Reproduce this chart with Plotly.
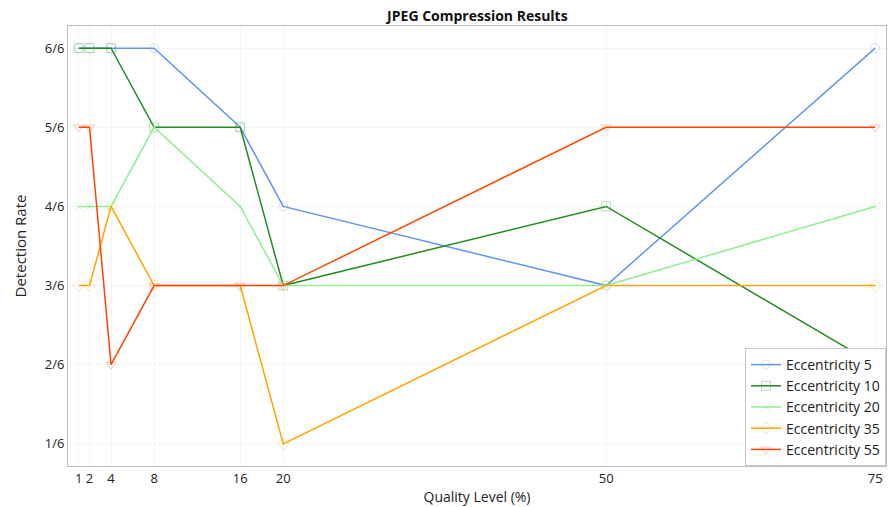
import plotly.graph_objects as go

quality = [1, 2, 4, 8, 16, 20, 50, 75]
ecc5 = [6, 6, 6, 6, 5, 4, 3, 6]
ecc10 = [6, 6, 6, 5, 5, 3, 4, 2]
ecc20 = [4, 4, 4, 5, 4, 3, 3, 4]
ecc35 = [3, 3, 4, 3, 3, 1, 3, 3]
ecc55 = [5, 5, 2, 3, 3, 3, 5, 5]
names = ["Eccentricity 5", "Eccentricity 10", "Eccentricity 20", "Eccentricity 35", "Eccentricity 55"]
series = [ecc5, ecc10, ecc20, ecc35, ecc55]
colors = ["#6495ED", "#228B22", "#90EE90", "#FFA500", "#FF4500"]
marker_colors = ["rgba(100,149,237,0.3)", "rgba(34,139,34,0.3)", "rgba(144,238,144,0.45)",
                 "rgba(255,165,0,0.3)", "rgba(255,69,0,0.3)"]
symbols = ["circle-open", "square-open", "x-thin-open", "diamond-open", "triangle-down-open"]
ytick_vals = [1, 2, 3, 4, 5, 6]
ytick_text = ["1/6", "2/6", "3/6", "4/6", "5/6", "6/6"]

fig = go.Figure()
for name, ys, c, mc, s in zip(names, series, colors, marker_colors, symbols):
    fig.add_trace(go.Scatter(
        x=quality, y=ys, name=name, mode="lines+markers",
        line=dict(color=c, width=1.5),
        marker=dict(symbol=s, size=9, color=mc, line=dict(width=1, color=mc)),
    ))

font = "Open Sans, Noto Sans, sans-serif"
fig.update_layout(
    width=889, height=507,
    margin=dict(l=68, r=3, t=26, b=41),
    paper_bgcolor="white", plot_bgcolor="white",
    font=dict(family=font, size=13, color="#222"),
    title=dict(text="<b>JPEG Compression Results</b>", x=0.537, xanchor="center",
               y=0.968, yanchor="middle", font=dict(size=14, color="#111")),
    showlegend=True,
    legend=dict(x=1.0, y=0.0, xanchor="right", yanchor="bottom",
                bgcolor="white", bordercolor="#c8c8c8", borderwidth=1,
                font=dict(size=14, color="#222"), tracegroupgap=0),
)
fig.update_xaxes(
    range=[0, 76], tickvals=quality, ticktext=[str(q) for q in quality],
    title=dict(text="Quality Level (%)", font=dict(size=14), standoff=6),
    showgrid=True, gridcolor="#f5f5f5", gridwidth=1,
    showline=True, linecolor="#bdbdbd", linewidth=1, mirror=True,
    ticks="", zeroline=False, tickfont=dict(size=13),
)
fig.update_yaxes(
    range=[0.72, 6.28], tickvals=ytick_vals, ticktext=ytick_text,
    title=dict(text="Detection Rate", font=dict(size=15), standoff=14),
    showgrid=True, gridcolor="#f5f5f5", gridwidth=1,
    showline=True, linecolor="#bdbdbd", linewidth=1, mirror=True,
    ticks="", zeroline=False, tickfont=dict(size=13),
)

fig.write_html("out.html", config={"displayModeBar": False},
               post_script="document.body.style.margin='0';document.body.style.overflow='hidden';")
